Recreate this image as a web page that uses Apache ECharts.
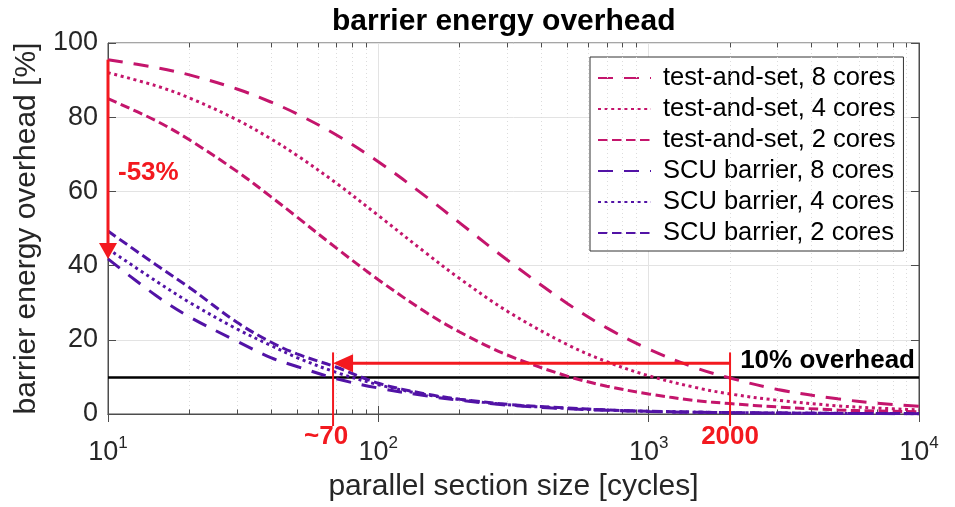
<!DOCTYPE html>
<html>
<head>
<meta charset="utf-8">
<script src="https://cdn.jsdelivr.net/npm/echarts@6/dist/echarts.min.js"></script>
<style>
  html, body { margin: 0; padding: 0; background: #fff; }
  #chart { width: 955px; height: 507px; }
</style>
</head>
<body>
<div id="chart"></div>
<script>
// parallel section size [cycles]
const sizes = [10, 15, 20, 30, 40, 50, 70, 100, 150, 200, 300, 500, 700, 1000, 1500, 2000, 3000, 5000, 7000, 10000]

// barrier energy overhead [%]
const tas8 = [95.5, 93.4, 91.4, 87.6, 84.1, 80.9, 75.2, 68.0, 58.6, 51.5, 41.5, 29.8, 23.2, 17.5, 12.4, 9.7, 6.6, 4.1, 2.9, 2.1]
const tas4 = [92.0, 88.5, 85.2, 79.3, 74.2, 69.7, 62.2, 53.5, 43.4, 36.5, 27.7, 18.7, 14.1, 10.3, 7.1, 5.4, 3.7, 2.2, 1.6, 1.1]
const tas2 = [85.0, 79.1, 73.9, 65.4, 58.6, 53.1, 44.7, 36.2, 27.4, 22.1, 15.9, 10.2, 7.5, 5.4, 3.6, 2.8, 1.9, 1.1, 0.8, 0.6]
const scu8 = [41.8, 32.0, 26.2, 19.6, 15.2, 12.8, 9.5, 7.0, 4.9, 3.7, 2.4, 1.4, 1.0, 0.7, 0.46, 0.34, 0.24, 0.15, 0.11, 0.08]
const scu4 = [44.5, 35.9, 30.1, 22.9, 18.5, 15.2, 11.2, 7.9, 5.2, 3.9, 2.5, 1.5, 1.05, 0.72, 0.48, 0.36, 0.25, 0.16, 0.12, 0.09]
const scu2 = [49.3, 40.3, 34.1, 24.7, 19.4, 16.2, 12.6, 8.3, 5.4, 4.0, 2.6, 1.6, 1.1, 0.75, 0.5, 0.38, 0.27, 0.17, 0.13, 0.1]

const seriesNames = [
  "test-and-set, 8 cores",
  "test-and-set, 4 cores",
  "test-and-set, 2 cores",
  "SCU barrier, 8 cores",
  "SCU barrier, 4 cores",
  "SCU barrier, 2 cores",
]
const seriesValues = [tas8, tas4, tas2, scu8, scu4, scu2]

// axis ticks
const xMinor = [20, 30, 40, 50, 60, 70, 80, 90, 200, 300, 400, 500, 600, 700, 800, 900, 2000, 3000, 4000, 5000, 6000, 7000, 8000, 9000]

// annotations
const overheadLimit = 10
const dropFrom = 95.5
const dropTo = 41.8
const dropText = "-53%"
const breakEvenSizes = [68, 2000]
const breakEvenLabels = ["~70", "2000"]
const breakEvenLevel = 13.7
const breakEvenTop = 16.6

const font = "Liberation Sans, Arial, Helvetica, sans-serif"
const ink = "#262626"
const pink = "#c4156c"
const purple = "#5213a6"
const red = "#f3191f"

const dashes = [[15, 11], [3, 3.6], [9.5, 4.5]]

const series = seriesValues.map((vals, i) => ({
  name: seriesNames[i],
  type: "line",
  data: sizes.map((x, k) => [x, vals[k]]),
  symbol: "none",
  smooth: 0.35,
  z: 5,
  lineStyle: {
    color: i < 3 ? pink : purple,
    width: 3,
    type: dashes[i % 3],
    cap: "butt",
  },
  itemStyle: { color: i < 3 ? pink : purple },
}))

// minor grid, minor ticks and the 10% line drawn through the axes
const guideLines = []
xMinor.forEach(v => {
  guideLines.push({ xAxis: v, lineStyle: { color: "#dcdcdc", width: 1, type: [1, 3] } })
  guideLines.push([
    { coord: [v, 0], lineStyle: { color: "#4d4d4d", width: 1, type: "solid" } },
    { coord: [v, 1.2] },
  ])
  guideLines.push([
    { coord: [v, 100], lineStyle: { color: "#4d4d4d", width: 1, type: "solid" } },
    { coord: [v, 98.8] },
  ])
})
guideLines.push({ yAxis: overheadLimit, lineStyle: { color: "#000", width: 2.5, type: "solid" } })

series.unshift({
  name: "guides",
  type: "line",
  data: [],
  z: 2,
  silent: true,
  markLine: {
    silent: true,
    symbol: "none",
    animation: false,
    label: { show: false },
    data: guideLines,
  },
})

const logAxis = (pos, labels) => ({
  type: "log",
  logBase: 10,
  min: 10,
  max: 10000,
  position: pos,
  axisLine: { show: true, lineStyle: { color: "#4d4d4d", width: 1 } },
  axisTick: { show: true, inside: true, length: 8, lineStyle: { color: "#4d4d4d" } },
  splitLine: { show: labels, lineStyle: { color: "#e3e3e3", width: 1 } },
  axisLabel: {
    show: labels,
    margin: 21,
    formatter: v => `{b|10}{s|${Math.round(Math.log10(v))}}`,
    rich: {
      b: { fontSize: 27, color: ink, fontFamily: font },
      s: { fontSize: 17, color: ink, fontFamily: font, padding: [0, 0, 18, 0] },
    },
  },
})

const linAxis = (pos, labels) => ({
  type: "value",
  min: 0,
  max: 100,
  interval: 20,
  position: pos,
  axisLine: { show: true, lineStyle: { color: "#4d4d4d", width: 1 } },
  axisTick: { show: true, inside: true, length: 8, lineStyle: { color: "#4d4d4d" } },
  splitLine: { show: labels, lineStyle: { color: "#e3e3e3", width: 1 } },
  axisLabel: { show: labels, margin: 10, fontSize: 27, color: ink, fontFamily: font },
})

const xMain = Object.assign(logAxis("bottom", true), {
  name: "parallel section size [cycles]",
  nameLocation: "middle",
  nameGap: 58,
  nameTextStyle: { fontSize: 30, color: ink, fontFamily: font },
})
const yMain = Object.assign(linAxis("left", true), {
  name: "barrier energy overhead [%]",
  nameLocation: "middle",
  nameGap: 59,
  nameTextStyle: { fontSize: 30, color: ink, fontFamily: font },
})

const option = {
  animation: false,
  backgroundColor: "#fff",
  title: {
    text: "barrier energy overhead",
    left: 327,
    top: 2,
    textStyle: { fontSize: 30, fontWeight: "bold", color: "#000", fontFamily: font },
  },
  grid: { left: 108, right: 36, top: 43, bottom: 89, show: true, borderColor: "#4d4d4d", borderWidth: 1 },
  xAxis: [xMain, logAxis("top", false)],
  yAxis: [yMain, linAxis("right", false)],
  legend: {
    data: seriesNames,
    orient: "vertical",
    left: 590,
    top: 57,
    padding: [8, 8, 5, 7],
    itemWidth: 53,
    itemHeight: 3,
    itemGap: 5,
    itemStyle: { opacity: 0 },
    borderColor: "#333",
    borderWidth: 1,
    backgroundColor: "#fff",
    textStyle: { fontSize: 25.5, lineHeight: 25, color: "#000", fontFamily: font, padding: [0, 0, 0, 7] },
  },
  series: series,
}

const chart = echarts.init(document.getElementById("chart"), null, { renderer: "canvas" })
chart.setOption(option)

// red annotations placed through the chart's own scales
const px = p => chart.convertToPixel({ xAxisIndex: 0, yAxisIndex: 0 }, p)
const boldFont = "bold 26px " + font
const graphics = []

const dropTop = px([sizes[0], dropFrom])
const dropTip = px([sizes[0], dropTo])
graphics.push({
  type: "line",
  shape: { x1: dropTop[0], y1: dropTop[1], x2: dropTip[0], y2: dropTip[1] - 14 },
  style: { stroke: red, lineWidth: 3 },
  z: 20,
})
graphics.push({
  type: "polygon",
  shape: { points: [[dropTip[0], dropTip[1]], [dropTip[0] - 9, dropTip[1] - 16], [dropTip[0] + 9, dropTip[1] - 16]] },
  style: { fill: red },
  z: 20,
})
const dropMid = px([sizes[0], 65.6])
graphics.push({
  type: "text",
  x: dropMid[0] + 10,
  y: dropMid[1] + 2,
  style: { text: dropText, fill: red, font: boldFont, textAlign: "left", align: "left", textVerticalAlign: "middle", verticalAlign: "middle" },
  z: 20,
})

const arrowTip = px([breakEvenSizes[0], breakEvenLevel])
const arrowTail = px([breakEvenSizes[1], breakEvenLevel])
graphics.push({
  type: "line",
  shape: { x1: arrowTail[0], y1: arrowTail[1], x2: arrowTip[0] + 16, y2: arrowTip[1] },
  style: { stroke: red, lineWidth: 3 },
  z: 20,
})
graphics.push({
  type: "polygon",
  shape: { points: [[arrowTip[0], arrowTip[1]], [arrowTip[0] + 20, arrowTip[1] - 9], [arrowTip[0] + 20, arrowTip[1] + 9]] },
  style: { fill: red },
  z: 20,
})
breakEvenSizes.forEach((s, i) => {
  const a = px([s, breakEvenTop])
  const b = px([s, 0])
  graphics.push({
    type: "line",
    shape: { x1: a[0], y1: a[1], x2: b[0], y2: b[1] + 12 },
    style: { stroke: red, lineWidth: 2 },
    z: 20,
  })
  graphics.push({
    type: "text",
    x: b[0] + (i === 0 ? -7 : 0),
    y: b[1] + 23,
    style: { text: breakEvenLabels[i], fill: red, font: boldFont, textAlign: "center", align: "center", textVerticalAlign: "middle", verticalAlign: "middle" },
    z: 20,
  })
})

const limitPos = px([sizes[sizes.length - 1], overheadLimit])
graphics.push({
  type: "text",
  x: limitPos[0] - 4,
  y: limitPos[1] - 16,
  style: { text: "10% overhead", fill: "#000", font: boldFont, textAlign: "right", align: "right", textVerticalAlign: "middle", verticalAlign: "middle" },
  z: 20,
})

chart.setOption({ graphic: graphics })
</script>
</body>
</html>
